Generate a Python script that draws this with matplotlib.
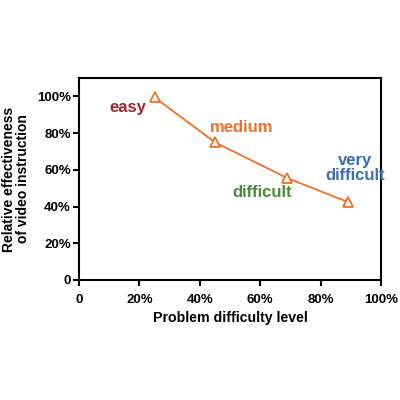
import matplotlib
matplotlib.use('Agg')
import matplotlib.pyplot as plt
from matplotlib.ticker import FuncFormatter

plt.rcParams['font.family'] = ['Liberation Sans', 'DejaVu Sans']
plt.rcParams['font.weight'] = 'bold'

# Data
difficulty = [25, 45, 69, 89]
effectiveness = [99.5, 75, 55.5, 42.5]
level_names = ['easy', 'medium', 'difficult', 'very\ndifficult']
level_colors = ['#a3252c', '#f36f21', '#4b873a', '#3a6db4']
label_pos = [(16, 94), (54, 83), (60.5, 47.5), (91.5, 61)]

x_ticks = [0, 20, 40, 60, 80, 100]
y_ticks = [0, 20, 40, 60, 80, 100]

line_color = '#f36f21'

fig = plt.figure(figsize=(4, 4), dpi=100)
ax = fig.add_axes([0.1975, 0.30, 0.755, 0.505])

ax.plot(difficulty, effectiveness, color=line_color, lw=1.3,
        marker='^', markersize=7, markerfacecolor='white',
        markeredgecolor=line_color, markeredgewidth=1.3)

for name, color, (tx, ty) in zip(level_names, level_colors, label_pos):
    ax.text(tx, ty, name, color=color, fontsize=12, fontweight='bold',
            ha='center', va='center', linespacing=1.0)

ax.set_xlim(0, 100)
ax.set_ylim(0, 110)
ax.set_xticks(x_ticks)
ax.set_yticks(y_ticks)

pct = FuncFormatter(lambda v, pos: '0' if v == 0 else '{:.0f}%'.format(v))
ax.xaxis.set_major_formatter(pct)
ax.yaxis.set_major_formatter(pct)

for spine in ax.spines.values():
    spine.set_linewidth(1.5)
ax.tick_params(direction='out', length=4, width=1.5, labelsize=9.5, pad=2)
ax.tick_params(axis='x', pad=6)
for lbl in ax.get_xticklabels() + ax.get_yticklabels():
    lbl.set_fontweight('bold')

ax.set_xlabel('Problem difficulty level', fontsize=10.2, fontweight='bold', labelpad=4)
ax.set_ylabel('Relative effectiveness\nof video instruction', fontsize=10,
              fontweight='bold', labelpad=5, linespacing=1.0)

fig.savefig('out.png', dpi=100)
